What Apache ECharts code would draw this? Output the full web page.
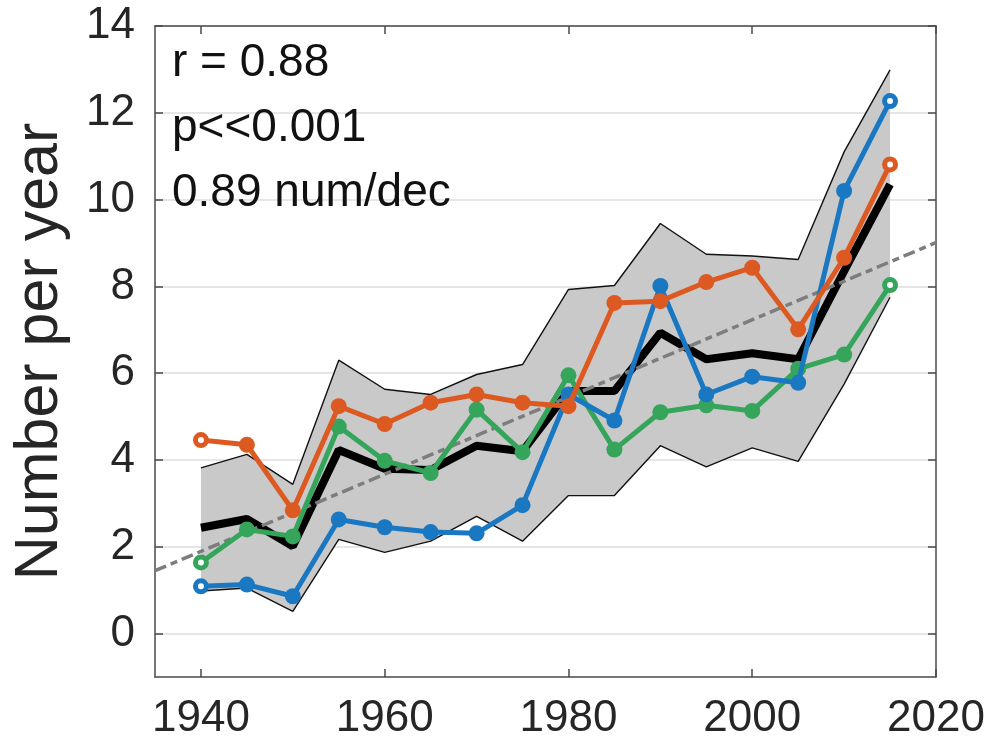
<!DOCTYPE html>
<html>
<head>
<meta charset="utf-8">
<script src="https://cdn.jsdelivr.net/npm/echarts@6/dist/echarts.min.js"></script>
<style>
  html, body { margin: 0; padding: 0; background: #fff; }
  #chart { width: 994px; height: 749px; }
</style>
</head>
<body>
<div id="chart"></div>
<script>
// Five-year bins
const years = [1940, 1945, 1950, 1955, 1960, 1965, 1970, 1975, 1980, 1985, 1990, 1995, 2000, 2005, 2010, 2015];

// Ensemble mean and spread envelope
const meanCount  = [2.44, 2.64, 2.01, 4.23, 3.80, 3.77, 4.33, 4.20, 5.59, 5.59, 6.93, 6.32, 6.46, 6.32, 8.35, 10.35];
const upperBound = [3.82, 4.13, 3.44, 6.30, 5.63, 5.51, 5.97, 6.20, 7.93, 8.02, 9.45, 8.74, 8.70, 8.62, 11.10, 12.99];
const lowerBound = [0.98, 1.05, 0.51, 2.17, 1.87, 2.13, 2.70, 2.13, 3.18, 3.18, 4.33, 3.84, 4.28, 3.97, 5.75, 7.75];

// Individual records
const orangeCount = [4.46, 4.35, 2.84, 5.24, 4.83, 5.32, 5.51, 5.32, 5.24, 7.62, 7.66, 8.10, 8.43, 7.01, 8.66, 10.81];
const greenCount  = [1.64, 2.40, 2.24, 4.77, 3.98, 3.70, 5.16, 4.18, 5.95, 4.24, 5.10, 5.26, 5.13, 6.10, 6.43, 8.03];
const blueCount   = [1.09, 1.13, 0.86, 2.63, 2.45, 2.34, 2.31, 2.96, 5.51, 4.91, 8.01, 5.51, 5.92, 5.78, 10.20, 12.27];

// Linear trend (0.89 per decade) end points
const trendYears  = [1935, 2020];
const trendValues = [1.45, 9.01];

// Axis ticks
const xTicks = [1940, 1960, 1980, 2000, 2020];
const yTicks = [0, 2, 4, 6, 8, 10, 12, 14];

// Statistics shown in the upper-left corner
const statLines = ['r = 0.88', 'p<<0.001', '0.89 num/dec'];

const FONT = "'Liberation Sans', Arial, Helvetica, sans-serif";
const TEXT = '#262626';
const AXIS = '#4a4a4a';

const pairs = (xs, ys) => xs.map((x, i) => [x, ys[i]]);

// Markers: filled in the middle, open at both ends
function markedData(values, color) {
  return values.map((v, i) => {
    const item = { value: [years[i], v] };
    if (i === 0 || i === values.length - 1) {
      item.symbolSize = 11;
      item.itemStyle = { color: '#ffffff', borderColor: color, borderWidth: 5 };
    }
    return item;
  });
}

function recordSeries(name, values, color, z) {
  return {
    name: name,
    type: 'line',
    data: markedData(values, color),
    symbol: 'circle',
    symbolSize: 16,
    showSymbol: true,
    lineStyle: { color: color, width: 5 },
    itemStyle: { color: color },
    z: z,
    silent: true,
    animation: false
  };
}

const chart = echarts.init(document.getElementById('chart'), null, { renderer: 'canvas' });

const option = {
  animation: false,
  backgroundColor: '#ffffff',
  grid: { left: 155, right: 58, top: 26, bottom: 72, containLabel: false },
  xAxis: [
    {
      type: 'value', min: 1935, max: 2020, position: 'bottom',
      axisLine: { show: true, onZero: false, lineStyle: { color: AXIS, width: 1.5 } },
      axisTick: { show: true, inside: true, length: 8, customValues: xTicks, lineStyle: { color: AXIS, width: 1.5 } },
      axisLabel: {
        customValues: xTicks, fontSize: 44, fontFamily: FONT, color: TEXT, margin: 20,
        formatter: (v) => String(v)
      },
      splitLine: { show: false }
    },
    {
      type: 'value', min: 1935, max: 2020, position: 'top',
      axisLine: { show: true, onZero: false, lineStyle: { color: AXIS, width: 1.5 } },
      axisTick: { show: true, inside: true, length: 8, customValues: xTicks, lineStyle: { color: AXIS, width: 1.5 } },
      axisLabel: { show: false },
      splitLine: { show: false }
    }
  ],
  yAxis: [
    {
      type: 'value', min: -1, max: 14, position: 'left',
      axisLine: { show: true, onZero: false, lineStyle: { color: AXIS, width: 1.5 } },
      axisTick: { show: true, inside: true, length: 8, customValues: yTicks, lineStyle: { color: AXIS, width: 1.5 } },
      axisLabel: { customValues: yTicks, fontSize: 44, fontFamily: FONT, color: TEXT, margin: 20 },
      splitLine: { show: true, lineStyle: { color: '#dedede', width: 1.5 } },
      name: 'Number per year',
      nameLocation: 'middle',
      nameGap: 84,
      nameRotate: 90,
      nameTextStyle: { fontSize: 61, fontFamily: FONT, color: TEXT }
    },
    {
      type: 'value', min: -1, max: 14, position: 'right',
      axisLine: { show: true, onZero: false, lineStyle: { color: AXIS, width: 1.5 } },
      axisTick: { show: true, inside: true, length: 8, customValues: yTicks, lineStyle: { color: AXIS, width: 1.5 } },
      axisLabel: { show: false },
      splitLine: { show: false }
    }
  ],
  graphic: statLines.map((t, i) => ({
    type: 'text',
    left: 172,
    top: 40 + i * 65,
    z: 100,
    style: { text: t, font: '46px ' + FONT, fill: '#111111' }
  })),
  series: [
    {
      // shaded envelope between lower and upper bounds
      type: 'custom',
      xAxisIndex: 0, yAxisIndex: 0,
      data: [[years[0], lowerBound[0]]],
      silent: true,
      z: 1,
      renderItem: function (params, api) {
        const pts = [];
        for (let i = 0; i < years.length; i++) pts.push(api.coord([years[i], upperBound[i]]));
        for (let i = years.length - 1; i >= 0; i--) pts.push(api.coord([years[i], lowerBound[i]]));
        return { type: 'polygon', shape: { points: pts }, style: { fill: '#c9c9c9', stroke: null } };
      }
    },
    {
      type: 'line', data: pairs(years, upperBound), showSymbol: false, symbol: 'none',
      lineStyle: { color: '#111', width: 1.4 }, z: 2, silent: true
    },
    {
      type: 'line', data: pairs(years, lowerBound), showSymbol: false, symbol: 'none',
      lineStyle: { color: '#111', width: 1.4 }, z: 2, silent: true
    },
    {
      type: 'line', data: pairs(years, meanCount), showSymbol: false, symbol: 'none',
      lineStyle: { color: '#000', width: 8 }, z: 3, silent: true
    },
    {
      type: 'line', data: pairs(trendYears, trendValues), showSymbol: false, symbol: 'none',
      lineStyle: { color: '#7d7d7d', width: 3.5, type: [12, 5, 7, 5] }, z: 4, silent: true
    },
    recordSeries('green', greenCount, '#34a55a', 5),
    recordSeries('blue', blueCount, '#1a78c2', 6),
    recordSeries('orange', orangeCount, '#dc5a22', 7)
  ]
};

chart.setOption(option);
</script>
</body>
</html>
